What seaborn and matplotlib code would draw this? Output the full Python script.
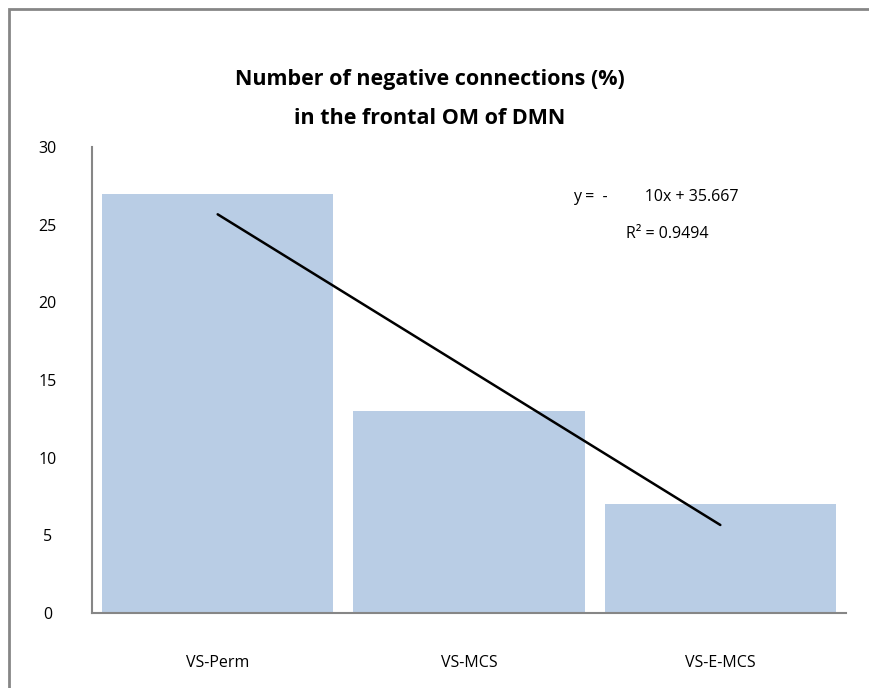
import numpy as np
import pandas as pd
import matplotlib
matplotlib.use("Agg")
import matplotlib.pyplot as plt
import seaborn as sns
from matplotlib.patches import Rectangle

categories = ["VS-Perm", "VS-MCS", "VS-E-MCS"]
values = [27, 13, 7]
yticks = [0, 5, 10, 15, 20, 25, 30]
title_lines = ["Number of negative connections (%)", "in the frontal OM of DMN"]

sns.set_theme(style="white")
plt.rcParams['font.family'] = ['Open Sans', 'DejaVu Sans']
plt.rcParams['text.color'] = 'black'
plt.rcParams['xtick.color'] = 'black'
plt.rcParams['ytick.color'] = 'black'

W, H = 869, 688
fig = plt.figure(figsize=(W / 100, H / 100), dpi=100)
ax = fig.add_axes([92 / W, (H - 613) / H, 754 / W, 466 / H])

df = pd.DataFrame({"cat": categories, "val": values})
sns.barplot(data=df, x="cat", y="val", color="#b9cde5", saturation=1,
            width=0.92, ax=ax, edgecolor="none")

# linear trendline (Excel-style, x = 1..n)
xs = np.arange(1, len(values) + 1)
slope, intercept = np.polyfit(xs, values, 1)
fit = slope * xs + intercept
r2 = 1 - np.sum((np.array(values) - fit) ** 2) / np.sum((np.array(values) - np.mean(values)) ** 2)
sns.lineplot(x=xs - 1, y=fit, color="black", linewidth=1.8, ax=ax)

ax.text(1.745, 26.75, f"y =  -         {abs(slope):.0f}x + {intercept:.3f}", ha="center", va="center",
        fontsize=11.5, color="black")
ax.text(1.788, 24.4, f"R² = {r2:.4f}", ha="center", va="center", fontsize=11.5, color="black")

ax.set_xlim(-0.5, 2.5)
ax.set_ylim(0, 30)
ax.set_yticks(yticks)
ax.set_yticklabels([str(t) for t in yticks], fontsize=11.5)
ax.set_xlabel("")
ax.set_ylabel("")
ax.tick_params(axis="x", length=0, pad=30, labelsize=11.5)
for lab in ax.get_yticklabels():
    lab.set_horizontalalignment("center")
ax.tick_params(axis="y", length=0, pad=32, labelsize=11.5)

for s in ["top", "right"]:
    ax.spines[s].set_visible(False)
for s in ["left", "bottom"]:
    ax.spines[s].set_color("#868686")
    ax.spines[s].set_linewidth(1.5)

fig.text(430 / W, 1 - 80 / H, title_lines[0], ha="center", va="center",
         fontsize=15.5, fontweight="bold", color="black")
fig.text(430 / W, 1 - 118 / H, title_lines[1], ha="center", va="center",
         fontsize=15.5, fontweight="bold", color="black")

border = Rectangle((9 / W, -0.1), 1.2, (H - 9) / H + 0.1, transform=fig.transFigure,
                   fill=False, edgecolor="#868686", linewidth=2, clip_on=False)
fig.patches.append(border)

fig.savefig("out.png", dpi=100)
